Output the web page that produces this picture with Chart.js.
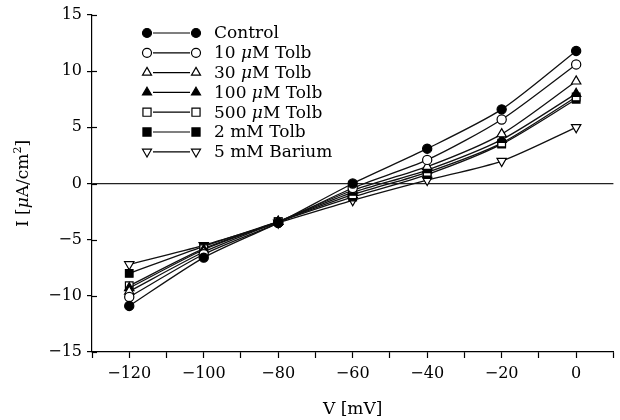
<!DOCTYPE html>
<html>
<head>
<meta charset="utf-8">
<script src="https://cdn.jsdelivr.net/npm/chart.js@4.4.1/dist/chart.umd.min.js"></script>
<style>
  html, body { margin: 0; padding: 0; background: #fff; }
  #wrap { width: 620px; height: 420px; }
</style>
</head>
<body>
<div id="wrap"><canvas id="ivPlot" width="620" height="420"></canvas></div>
<script>
// membrane voltage (mV)
const voltages = [-120, -100, -80, -60, -40, -20, 0];

// current density (uA/cm2)
const control = [-10.9, -6.6, -3.5, 0.0, 3.1, 6.6, 11.8];
const tolb10 = [-10.1, -6.3, -3.5, -0.4, 2.1, 5.7, 10.6];
const tolb30 = [-9.6, -6.1, -3.4, -0.6, 1.5, 4.4, 9.1];
const tolb100 = [-9.3, -5.9, -3.4, -0.8, 1.2, 3.9, 8.0];
const tolb500 = [-9.1, -5.8, -3.4, -1.0, 1.0, 3.6, 7.7];
const tolb2m = [-8.0, -5.6, -3.4, -1.2, 0.8, 3.5, 7.5];
const barium = [-7.2, -5.5, -3.5, -1.5, 0.3, 2.0, 5.0];

// legend names, split so the mu can be set in italics: [before, mu?, after]
const seriesNames = [
  ["Control", "", ""],
  ["10 ", "\u03bc", "M Tolb"],
  ["30 ", "\u03bc", "M Tolb"],
  ["100 ", "\u03bc", "M Tolb"],
  ["500 ", "\u03bc", "M Tolb"],
  ["2 mM Tolb", "", ""],
  ["5 mM Barium", "", ""]
];

const yTicks = [-15, -10, -5, 0, 5, 10, 15];
const xLabelTicks = [-120, -100, -80, -60, -40, -20, 0];

const FONT = "'DejaVu Serif', serif";

function pairs(values) {
  return voltages.map(function (v, i) { return { x: v, y: values[i] }; });
}

// marker look per series: [pointStyle, filled, rotation]
const markers = [
  ["circle", true, 0],
  ["circle", false, 0],
  ["triangle", false, 0],
  ["triangle", true, 0],
  ["rect", false, 0],
  ["rect", true, 0],
  ["triangle", false, 180]
];
const allValues = [control, tolb10, tolb30, tolb100, tolb500, tolb2m, barium];

const datasets = allValues.map(function (vals, i) {
  let m = markers[i];
  return {
    label: seriesNames[i].join(""),
    data: pairs(vals),
    borderColor: "#111",
    borderWidth: 1.3,
    tension: 0.25,
    pointStyle: m[0],
    pointRotation: m[2],
    pointRadius: m[0] == "circle" ? 4.6 : 5.4,
    pointBorderWidth: 1.2,
    pointBackgroundColor: m[1] ? "#000" : "#fff",
    pointBorderColor: "#000"
  };
});

function drawMarker(ctx, m, x, y) {
  let r = m[0] == "circle" ? 4.5 : 5.2;
  ctx.save();
  ctx.translate(x, y);
  ctx.rotate(m[2] * Math.PI / 180);
  ctx.beginPath();
  if (m[0] == "circle") {
    ctx.arc(0, 0, r, 0, Math.PI * 2);
  } else if (m[0] == "triangle") {
    ctx.moveTo(0, -r);
    ctx.lineTo(r * 0.866, r * 0.5);
    ctx.lineTo(-r * 0.866, r * 0.5);
    ctx.closePath();
  } else {
    let s = r * 0.78;
    ctx.rect(-s, -s, 2 * s, 2 * s);
  }
  ctx.fillStyle = m[1] ? "#000" : "#fff";
  ctx.fill();
  ctx.lineWidth = 1.2;
  ctx.strokeStyle = "#000";
  ctx.stroke();
  ctx.restore();
}

// writes pieces left to right, the middle one in italics
function mixedText(ctx, parts, x, y, size) {
  let styles = ["", "italic ", ""];
  for (let k = 0; k < parts.length; k++) {
    if (!parts[k]) continue;
    ctx.font = styles[k] + size + "px " + FONT;
    ctx.fillText(parts[k], x, y);
    x += ctx.measureText(parts[k]).width;
  }
  return x;
}

// legend with a marker at each end of the line, like the original figure
const pairLegend = {
  id: "pairLegend",
  afterDraw: function (chart) {
    let ctx = chart.ctx;
    ctx.save();
    ctx.textBaseline = "middle";
    ctx.fillStyle = "#000";
    for (let i = 0; i < seriesNames.length; i++) {
      let y = 33 + i * 19.8;
      ctx.beginPath();
      ctx.moveTo(153, y);
      ctx.lineTo(190, y);
      ctx.lineWidth = 1.2;
      ctx.strokeStyle = "#000";
      ctx.stroke();
      drawMarker(ctx, markers[i], 147, y);
      drawMarker(ctx, markers[i], 196, y);
      mixedText(ctx, seriesNames[i], 214, y + 1, 17);
    }
    ctx.restore();
  }
};

// y axis title with italic mu and a raised 2
const yTitle = {
  id: "yTitle",
  afterDraw: function (chart) {
    let ctx = chart.ctx;
    let ca = chart.chartArea;
    ctx.save();
    ctx.fillStyle = "#000";
    ctx.textBaseline = "middle";
    ctx.font = "17px " + FONT;
    let parts = ["I [", "\u03bc", "A/cm"];
    let w = 0;
    for (let k = 0; k < 3; k++) {
      ctx.font = (k == 1 ? "italic " : "") + "17px " + FONT;
      w += ctx.measureText(parts[k]).width;
    }
    ctx.font = "11px " + FONT;
    w += ctx.measureText("2").width;
    ctx.font = "17px " + FONT;
    w += ctx.measureText("]").width;
    ctx.translate(24, (ca.top + ca.bottom) / 2);
    ctx.rotate(-Math.PI / 2);
    let x = mixedText(ctx, parts, -w / 2, 0, 17);
    ctx.font = "11px " + FONT;
    ctx.fillText("2", x, -6);
    x += ctx.measureText("2").width;
    ctx.font = "17px " + FONT;
    ctx.fillText("]", x, 0);
    ctx.restore();
  }
};

// inward half of the y ticks (they cross the axis)
const innerTicks = {
  id: "innerTicks",
  afterDraw: function (chart) {
    let ctx = chart.ctx;
    let ys = chart.scales.y;
    let left = chart.chartArea.left;
    ctx.save();
    ctx.strokeStyle = "#000";
    ctx.lineWidth = 1.2;
    yTicks.forEach(function (t) {
      let py = Math.round(ys.getPixelForValue(t)) + 0.5;
      ctx.beginPath();
      ctx.moveTo(left, py);
      ctx.lineTo(left + 5, py);
      ctx.stroke();
    });
    ctx.restore();
  }
};

new Chart("ivPlot", {
  type: "line",
  data: { datasets: datasets },
  options: {
    responsive: false,
    animation: false,
    layout: { padding: { top: 15, right: 3, left: 16, bottom: 0 } },
    plugins: {
      legend: { display: false },
      tooltip: { enabled: false }
    },
    scales: {
      x: {
        type: "linear",
        min: -130,
        max: 10,
        border: { color: "#000", width: 1.2 },
        grid: { drawOnChartArea: false, tickLength: 6, tickColor: "#000", tickWidth: 1.2 },
        afterBuildTicks: function (axis) {
          let t = [];
          for (let v = -130; v <= 10; v += 10) t.push({ value: v });
          axis.ticks = t;
        },
        ticks: {
          autoSkip: false,
          maxRotation: 0,
          padding: 6,
          color: "#000",
          font: { family: FONT, size: 16 },
          callback: function (v) {
            return xLabelTicks.indexOf(v) >= 0 ? String(v).replace("-", "\u2212") : "";
          }
        },
        title: {
          display: true,
          text: "V [mV]",
          color: "#000",
          font: { family: FONT, size: 17 },
          padding: { top: 2, bottom: 0 }
        },
        afterFit: function (axis) { axis.height = 68; }
      },
      y: {
        min: -15,
        max: 15,
        border: { color: "#000", width: 1.2 },
        grid: {
          drawOnChartArea: true,
          tickLength: 5,
          tickWidth: 1.2,
          tickColor: "#000",
          lineWidth: 1.2,
          color: function (c) { return c.tick && c.tick.value === 0 ? "#222" : "rgba(0,0,0,0)"; }
        },
        afterBuildTicks: function (axis) {
          axis.ticks = yTicks.map(function (v) { return { value: v }; });
        },
        ticks: {
          padding: 5,
          color: "#000",
          font: { family: FONT, size: 16 },
          callback: function (v) { return String(v).replace("-", "\u2212"); }
        },
        afterFit: function (axis) { axis.width = 76; }
      }
    }
  },
  plugins: [pairLegend, yTitle, innerTicks]
});
</script>
</body>
</html>
